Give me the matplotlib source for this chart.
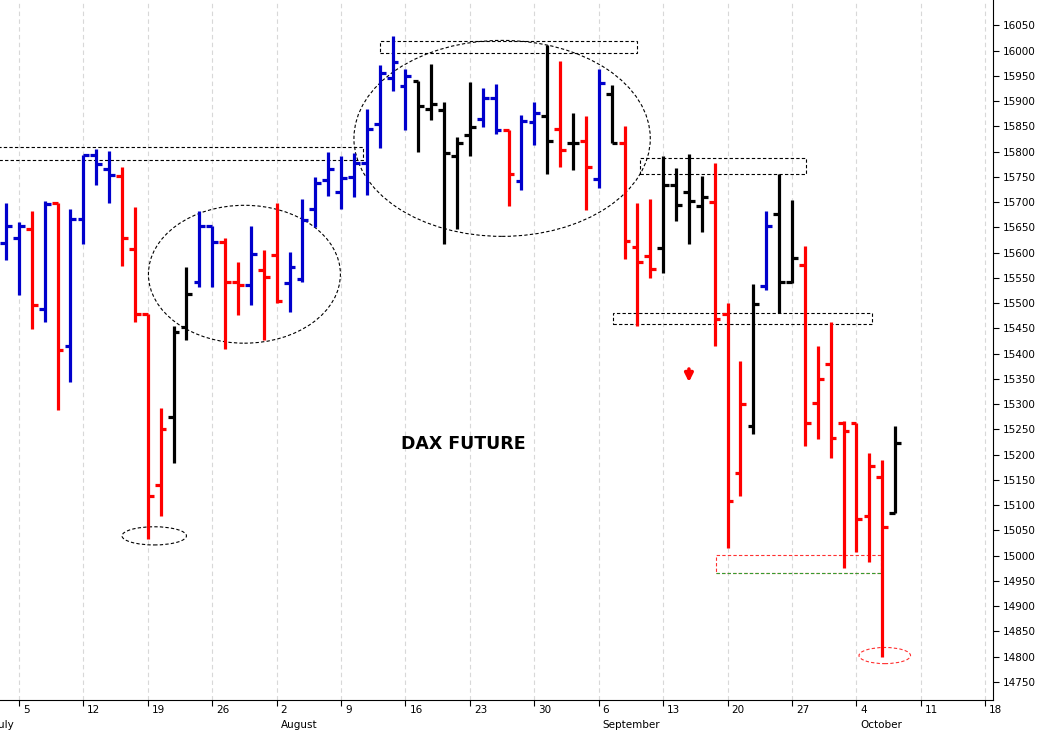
import matplotlib
matplotlib.use("Agg")
import matplotlib.pyplot as plt
import matplotlib.transforms as mtransforms
from matplotlib.patches import Ellipse, Rectangle

# daily bars, first bar = Fri 2 July 2021
opens = [15619, 15629, 15647, 15488, 15698, 15415, 15667, 15793, 15766, 15752,
         15607, 15479, 15140, 15275, 15453, 15542, 15653, 15621, 15542, 15536,
         15566, 15595, 15540, 15548, 15686, 15744, 15720, 15750, 15777, 15855,
         15946, 15930, 15940, 15884, 15882, 15791, 15833, 15864, 15906, 15843,
         15742, 15859, 15870, 15845, 15817, 15821, 15746, 15914, 15817, 15611,
         15593, 15609, 15734, 15720, 15692, 15700, 15479, 15164, 15257, 15534,
         15676, 15542, 15576, 15302, 15380, 15263, 15263, 15079, 15156, 15085]
highs = [15698, 15661, 15682, 15702, 15698, 15686, 15793, 15805, 15801, 15770,
         15690, 15479, 15293, 15455, 15572, 15682, 15653, 15629, 15581, 15653,
         15605, 15698, 15601, 15706, 15750, 15799, 15791, 15797, 15884, 15971,
         16029, 15963, 15940, 15973, 15898, 15829, 15938, 15926, 15934, 15843,
         15872, 15898, 16011, 15979, 15876, 15870, 15963, 15932, 15851, 15698,
         15706, 15791, 15768, 15795, 15752, 15777, 15500, 15386, 15538, 15682,
         15756, 15704, 15613, 15415, 15463, 15267, 15263, 15203, 15190, 15257]
lows = [15585, 15516, 15449, 15463, 15289, 15344, 15617, 15734, 15698, 15574,
        15463, 15033, 15079, 15184, 15427, 15532, 15532, 15409, 15477, 15496,
        15427, 15500, 15483, 15542, 15651, 15712, 15686, 15710, 15714, 15807,
        15920, 15843, 15799, 15862, 15617, 15647, 15791, 15849, 15835, 15692,
        15724, 15813, 15756, 15770, 15764, 15684, 15728, 15817, 15587, 15455,
        15550, 15560, 15663, 15617, 15641, 15415, 15014, 15118, 15241, 15526,
        15481, 15540, 15217, 15231, 15194, 14976, 15008, 14988, 14800, 15085]
closes = [15653, 15653, 15496, 15696, 15407, 15667, 15793, 15775, 15754, 15629,
          15479, 15118, 15251, 15443, 15518, 15653, 15621, 15542, 15536, 15597,
          15552, 15504, 15572, 15665, 15738, 15766, 15748, 15777, 15845, 15956,
          15977, 15950, 15890, 15894, 15797, 15817, 15849, 15906, 15843, 15756,
          15861, 15876, 15821, 15803, 15817, 15770, 15936, 15817, 15623, 15581,
          15568, 15734, 15694, 15702, 15710, 15469, 15109, 15300, 15498, 15653,
          15542, 15589, 15263, 15350, 15233, 15247, 15073, 15178, 15057, 15223]
colors = list("bbrbrbbbbrrrrkkbbrrbrrbbbbbbbbbbkkkkkbbrbbkrkrbkrrrkkkkrrrkbkkrrrrrrrk")

# Monday gridlines (bar index) and labels
monday_idx = [1, 6, 11, 16, 21, 26, 31, 36, 41, 46, 51, 56, 61, 66, 71, 76]
monday_lbl = ["5", "12", "19", "26", "2", "9", "16", "23", "30", "6", "13", "20",
              "27", "4", "11", "18"]
months = [("July", -1.1), ("August", 21), ("September", 46), ("October", 66)]

cmap = {"b": "#0000cc", "r": "#ff0000", "k": "#000000"}

fig = plt.figure(figsize=(10.42, 7.31), dpi=100)
ax = fig.add_axes([0, 1 - 700 / 731, 993 / 1042, 700 / 731])

for i in range(len(opens)):
    c = cmap[colors[i]]
    ax.plot([i, i], [lows[i], highs[i]], color=c, lw=2.3, solid_capstyle="butt")
    ax.plot([i - 0.45, i], [opens[i], opens[i]], color=c, lw=2.3, solid_capstyle="butt")
    ax.plot([i, i + 0.45], [closes[i], closes[i]], color=c, lw=2.3, solid_capstyle="butt")

for m in monday_idx:
    ax.axvline(m, color="#d8d8d8", lw=0.8, ls=(0, (4, 3)), zorder=0)

dash = (0, (3, 2))
for x0, x1, y0, y1 in [(-1, 27.7, 15783, 15809), (29.0, 49.0, 15996, 16018),
                       (49.2, 62.1, 15756, 15787), (47.1, 67.2, 15458, 15480)]:
    ax.add_patch(Rectangle((x0, y0), x1 - x0, y1 - y0, fill=False, ec="black",
                           lw=0.8, ls=dash))
ax.add_patch(Rectangle((55.1, 14966), 12.8, 35, fill=False, ec="#ff3030", lw=0.8, ls=dash))
ax.plot([55.1, 67.9], [14966, 14966], color="#30a030", lw=0.8, ls=dash)

for cx, cy, w, h, ec in [(18.5, 15557, 14.9, 273, "black"), (38.5, 15826, 23.0, 388, "black"),
                         (11.5, 15039, 5.0, 36, "black"), (68.2, 14802, 4.0, 32, "#ff3030")]:
    ax.add_patch(Ellipse((cx, cy), w, h, fill=False, ec=ec, lw=0.8, ls=dash))

ax.annotate("", xy=(53.0, 15338), xytext=(53.0, 15375),
            arrowprops=dict(arrowstyle="-|>", color="red", lw=2.5, mutation_scale=12))
ax.text(35.5, 15221, "DAX FUTURE", ha="center", va="center", fontsize=12.5,
        fontweight="bold")

ax.set_xlim(-0.47, 76.6)
ax.set_ylim(14714, 16100)
ax.yaxis.tick_right()
ax.set_yticks(range(14750, 16051, 50))
ax.tick_params(axis="y", labelsize=7.5, length=4, direction="out", pad=3)
ax.set_xticks(monday_idx)
ax.set_xticklabels([])
ax.tick_params(axis="x", length=4)
ax.spines["top"].set_visible(False)
ax.spines["left"].set_visible(False)

trans = mtransforms.blended_transform_factory(ax.transData, fig.transFigure)
for m, lbl in zip(monday_idx, monday_lbl):
    ax.text(m + 0.3, 1 - 710 / 731, lbl, transform=trans, ha="left", va="center",
            fontsize=7.5, clip_on=False)
for name, m in months:
    ax.text(m + 0.3, 1 - 725 / 731, name, transform=trans, ha="left", va="center",
            fontsize=7.5, clip_on=False)

fig.savefig("out.png", dpi=100)
